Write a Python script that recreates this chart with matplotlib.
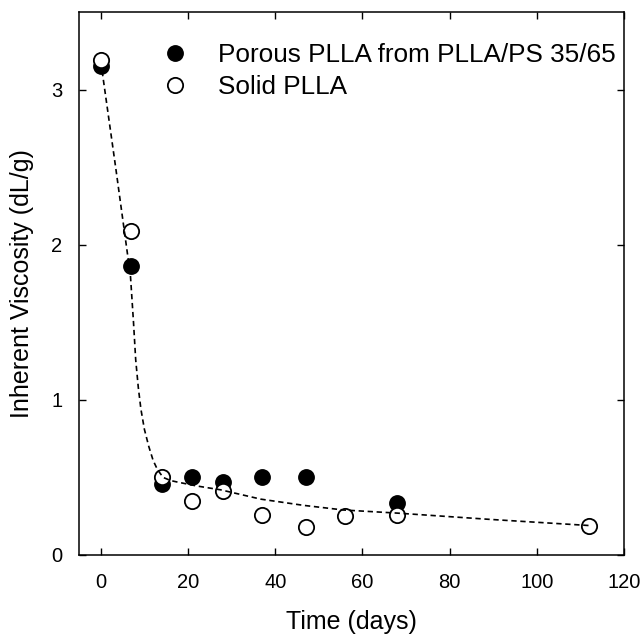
import matplotlib.pyplot as plt

# Porous PLLA (filled) and solid PLLA (open) inherent viscosity vs time
porous_days = [0, 7, 14, 21, 28, 37, 47, 68]
porous_visc = [3.15, 1.86, 0.46, 0.50, 0.47, 0.50, 0.50, 0.335]

solid_days = [0, 7, 14, 21, 28, 37, 47, 56, 68, 112]
solid_visc = [3.19, 2.09, 0.50, 0.35, 0.41, 0.26, 0.18, 0.25, 0.26, 0.19]

# dashed trend curve
curve_days = [0.3, 3.5, 6.8, 7.5, 8.0, 8.6, 9.2, 10.0, 11.0, 12.0, 13.0, 14.3,
              16.0, 17.6, 22.0, 27.5, 36.7, 46.5, 55.7, 68.0, 89.0, 112.0]
curve_visc = [3.12, 2.48, 1.80, 1.50, 1.26, 1.08, 0.94, 0.81, 0.70, 0.61, 0.55, 0.50,
              0.48, 0.47, 0.445, 0.42, 0.36, 0.32, 0.29, 0.27, 0.23, 0.19]

x_ticks = [0, 20, 40, 60, 80, 100, 120]
y_ticks = [0, 1, 2, 3]

plt.rcParams['font.family'] = ['Liberation Sans', 'DejaVu Sans']

fig = plt.figure(figsize=(6.44, 6.38), dpi=100)
ax = fig.add_axes([79 / 644, 83 / 638, 545 / 644, 543 / 638])

ax.plot(porous_days, porous_visc, 'o', color='black', markersize=11,
        markeredgewidth=1.1, label='Porous PLLA from PLLA/PS 35/65', zorder=3)
ax.plot(solid_days, solid_visc, 'o', markerfacecolor='white', markeredgecolor='black',
        markersize=11, markeredgewidth=1.3, label='Solid PLLA', zorder=4)
ax.plot(curve_days, curve_visc, color='black', linestyle=(0, (3.2, 2.2)),
        linewidth=1.2, zorder=5)

ax.set_xlim(-5, 120)
ax.set_ylim(0, 3.5)
ax.set_xticks(x_ticks)
ax.set_yticks(y_ticks)
ax.tick_params(direction='in', top=True, right=True, length=5, width=1,
               labelsize=14.5)
ax.tick_params(axis='x', pad=13)
ax.tick_params(axis='y', pad=12)
for s in ax.spines.values():
    s.set_linewidth(1.1)

ax.set_xlabel('Time (days)', fontsize=18, labelpad=13)
ax.set_ylabel('Inherent Viscosity (dL/g)', fontsize=18, labelpad=12)

ax.legend(loc='upper left', bbox_to_anchor=(0.152, 0.943), frameon=False,
          fontsize=18.8, numpoints=1, handlelength=1.0, handletextpad=1.15,
          borderpad=0, borderaxespad=0, labelspacing=0.3)

fig.savefig('out.png', dpi=100)
